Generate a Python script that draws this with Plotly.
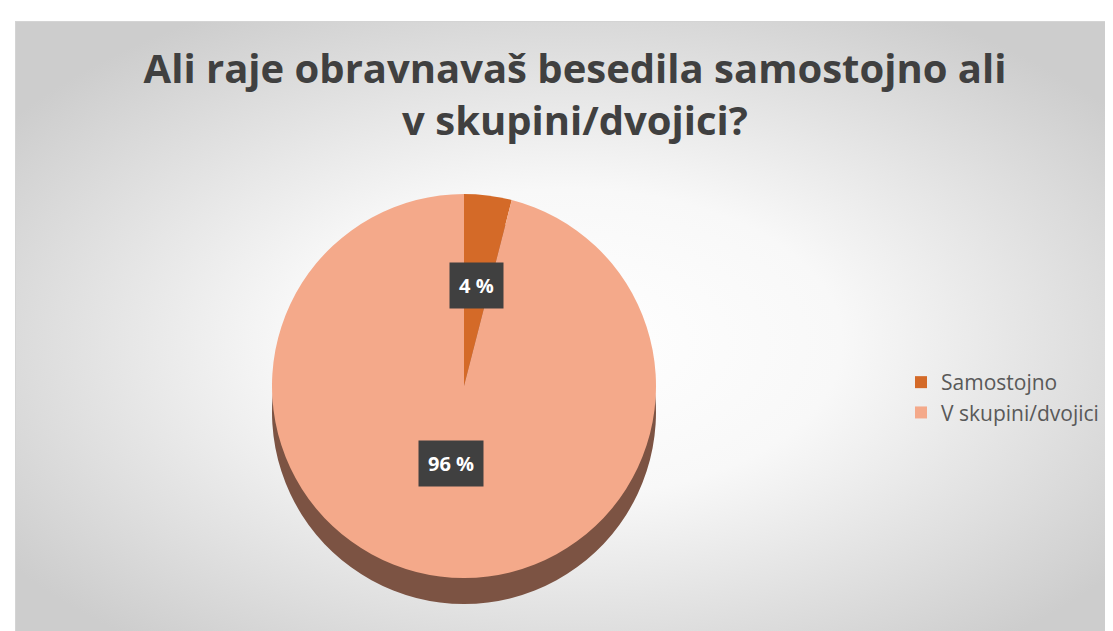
import base64
import math
import plotly.graph_objects as go

# ---- data ----
categories = ["Samostojno", "V skupini/dvojici"]
values = [4, 96]
label_texts = ["4 %", "96 %"]
top_colors = ["#D46A28", "#F4A98A"]
side_colors = ["#8E4A22", "#7C5343"]
title_text = "Ali raje obravnavaš besedila samostojno ali<br>v skupini/dvojici?"

W, H = 1113, 631
FONT = "Open Sans"

# pie geometry (pixels)
cx, cy = 456, 378
D = 384
depth = 26


def px_dom_x(a, b):
    return [a / W, b / W]


def px_dom_y(top, bottom):
    return [1 - bottom / H, 1 - top / H]


fig = go.Figure()

# side (depth) of the pie
fig.add_trace(go.Pie(
    labels=categories, values=values, sort=False, direction="clockwise",
    marker=dict(colors=side_colors, line=dict(width=0)),
    textinfo="none", hoverinfo="skip", showlegend=False,
    domain=dict(x=px_dom_x(cx - D / 2, cx + D / 2),
                y=px_dom_y(cy - D / 2 + depth, cy + D / 2 + depth)),
))

# top face
fig.add_trace(go.Pie(
    labels=categories, values=values, sort=False, direction="clockwise",
    marker=dict(colors=top_colors, line=dict(width=0)),
    textinfo="none", showlegend=True,
    domain=dict(x=px_dom_x(cx - D / 2, cx + D / 2),
                y=px_dom_y(cy - D / 2, cy + D / 2)),
))

# data labels (dark boxes) at slice mid-angles
total = sum(values)
cum = 0
annotations = []
for v, t in zip(values, label_texts):
    mid = (cum + v / 2) / total * 2 * math.pi
    cum += v
    r = 0.53 * D / 2
    x = cx + r * math.sin(mid)
    y = cy - r * math.cos(mid)
    annotations.append(dict(
        x=x / W, y=1 - y / H, xref="paper", yref="paper", text="<b>" + t + "</b>",
        showarrow=False, font=dict(family=FONT, size=20, color="white"),
        bgcolor="#404040", borderpad=9,
    ))

# background gradient
svg = (
    '<svg xmlns="http://www.w3.org/2000/svg" width="1106" height="618">'
    '<defs><radialGradient id="g" cx="50%" cy="52%" r="62%">'
    '<stop offset="0" stop-color="#ffffff"/><stop offset="0.4" stop-color="#f8f8f8"/>'
    '<stop offset="1" stop-color="#cdcdcd"/></radialGradient></defs>'
    '<rect x="0" y="0" width="1106" height="618" fill="url(#g)" stroke="#d4d4d4" stroke-width="2"/></svg>'
)
src = "data:image/svg+xml;base64," + base64.b64encode(svg.encode()).decode()

fig.update_layout(
    width=W, height=H,
    margin=dict(l=0, r=0, t=0, b=0),
    paper_bgcolor="white",
    title=dict(text="<b>" + title_text + "</b>", x=567 / W, xanchor="center",
               y=1 - 75 / H, yanchor="top",
               font=dict(family=FONT, size=40, color="#404040")),
    legend=dict(x=893 / W, y=1 - 354 / H, xanchor="left", yanchor="top",
                font=dict(family=FONT, size=21, color="#595959"),
                bgcolor="rgba(0,0,0,0)", itemwidth=30),
    annotations=annotations,
    images=[dict(source=src, xref="paper", yref="paper", x=7 / W, y=1 - 13 / H,
                 sizex=1106 / W, sizey=618 / H, xanchor="left", yanchor="top",
                 sizing="stretch", layer="below")],
)

fig.write_html("out.html")
